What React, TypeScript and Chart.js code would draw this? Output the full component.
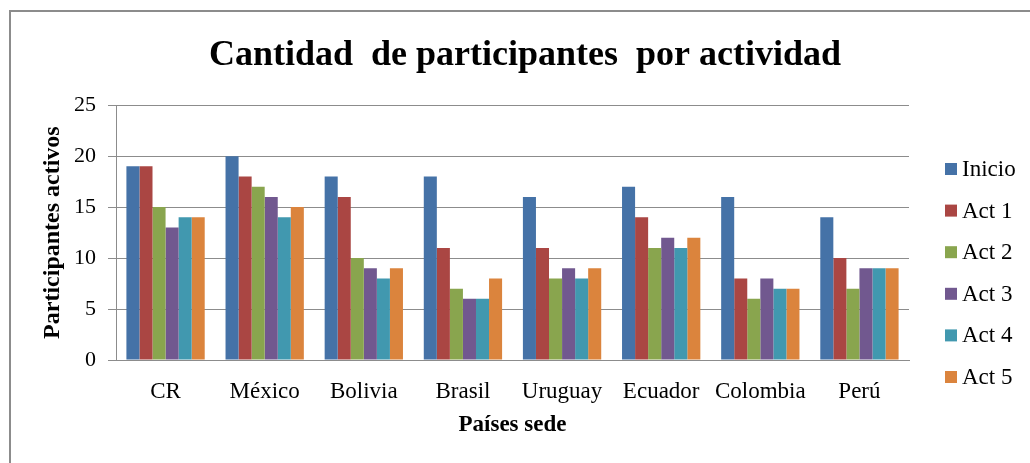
import React, { useEffect, useRef } from 'react';
import { Chart, registerables } from 'chart.js';

Chart.register(...registerables);

const FONT = '"Liberation Serif", "Times New Roman", serif';

const categories = ['CR', 'México', 'Bolivia', 'Brasil', 'Uruguay', 'Ecuador', 'Colombia', 'Perú'];
const seriesLabels = ['Inicio', 'Act 1', 'Act 2', 'Act 3', 'Act 4', 'Act 5'];
const seriesColors = ['#4572A7', '#AA4643', '#89A54E', '#71588F', '#4198AF', '#DB843D'];
const inicio = [19, 20, 18, 18, 16, 17, 16, 14];
const act1 = [19, 18, 16, 11, 11, 14, 8, 10];
const act2 = [15, 17, 10, 7, 8, 11, 6, 7];
const act3 = [13, 16, 9, 6, 9, 12, 8, 9];
const act4 = [14, 14, 8, 6, 8, 11, 7, 9];
const act5 = [14, 15, 9, 8, 9, 12, 7, 9];
const yTicks = [0, 5, 10, 15, 20, 25];

const seriesValues = [inicio, act1, act2, act3, act4, act5];

const framePlugin = {
  id: 'frame',
  beforeDraw(chart: any) {
    const ctx = chart.ctx;
    ctx.save();
    ctx.fillStyle = '#ffffff';
    ctx.fillRect(0, 0, chart.width, chart.height);
    ctx.strokeStyle = '#8c8c8c';
    ctx.lineWidth = 2;
    ctx.strokeRect(10, 11, 3000, 3000);
    ctx.restore();
  },
};

const sideLegendPlugin = {
  id: 'sideLegend',
  afterDraw(chart: any) {
    const ctx = chart.ctx;
    const area = chart.chartArea;
    const x0 = area.right + 36;
    const top = 169;
    const step = 41.6;
    ctx.save();
    ctx.font = `23px ${FONT}`;
    ctx.textBaseline = 'middle';
    ctx.textAlign = 'left';
    chart.data.datasets.forEach((ds: any, i: number) => {
      const y = top + i * step;
      ctx.fillStyle = ds.backgroundColor;
      ctx.fillRect(x0, y - 6, 12, 12);
      ctx.fillStyle = '#000000';
      ctx.fillText(ds.label, x0 + 17, y + 1);
    });
    ctx.restore();
  },
};

export default function App() {
  const ref = useRef<HTMLCanvasElement>(null);

  useEffect(() => {
    const canvas = ref.current;
    if (!canvas) return;
    const chart = new Chart(canvas, {
      type: 'bar',
      data: {
        labels: categories,
        datasets: seriesLabels.map((label, i) => ({
          label,
          data: seriesValues[i],
          backgroundColor: seriesColors[i],
          borderWidth: 0,
          categoryPercentage: 0.79,
          barPercentage: 1,
          yAxisID: 'y',
        })),
      },
      options: {
        responsive: false,
        animation: false,
        devicePixelRatio: 1,
        layout: { padding: 0 },
        plugins: {
          legend: { display: false },
          tooltip: { enabled: false },
          title: {
            display: true,
            text: 'Cantidad  de participantes  por actividad',
            color: '#000000',
            font: { family: FONT, size: 36, weight: 'bold' },
            padding: { top: 34, bottom: 28 },
          },
        },
        scales: {
          x: {
            afterFit: (s: any) => {
              s.height = 103;
            },
            grid: { display: false },
            border: { display: true, color: '#8c8c8c', width: 1 },
            ticks: {
              color: '#000000',
              font: { family: FONT, size: 23 },
              padding: 10,
              maxRotation: 0,
              autoSkip: false,
            },
            title: {
              display: true,
              text: 'Países sede',
              color: '#000000',
              font: { family: FONT, size: 23, weight: 'bold' },
              padding: { top: 0, bottom: 24 },
            },
          },
          y: {
            min: 0,
            max: 25,
            afterFit: (s: any) => {
              s.width = 116;
            },
            afterBuildTicks: (s: any) => {
              s.ticks = yTicks.map((v) => ({ value: v }));
            },
            grid: { color: '#8c8c8c', lineWidth: 1, tickLength: 8, drawTicks: true },
            border: { display: true, color: '#8c8c8c', width: 1 },
            ticks: {
              color: '#000000',
              font: { family: FONT, size: 22 },
              padding: 12,
              stepSize: 5,
            },
            title: {
              display: true,
              text: 'Participantes activos',
              color: '#000000',
              font: { family: FONT, size: 24, weight: 'bold' },
              padding: { top: 38, bottom: 0 },
            },
          },
          legendSpace: {
            type: 'linear',
            position: 'right',
            display: true,
            afterFit: (s: any) => {
              s.width = 141;
            },
            grid: { display: false, drawTicks: false },
            border: { display: false },
            ticks: { display: false },
            title: { display: false },
          },
        },
      },
      plugins: [framePlugin, sideLegendPlugin],
    });
    return () => chart.destroy();
  }, []);

  return (
    <div
      style={{
        position: 'absolute',
        left: 0,
        top: 0,
        width: 1030,
        height: 463,
        overflow: 'hidden',
        background: '#ffffff',
      }}
    >
      <canvas ref={ref} width={1050} height={463} style={{ display: 'block' }} />
    </div>
  );
}
